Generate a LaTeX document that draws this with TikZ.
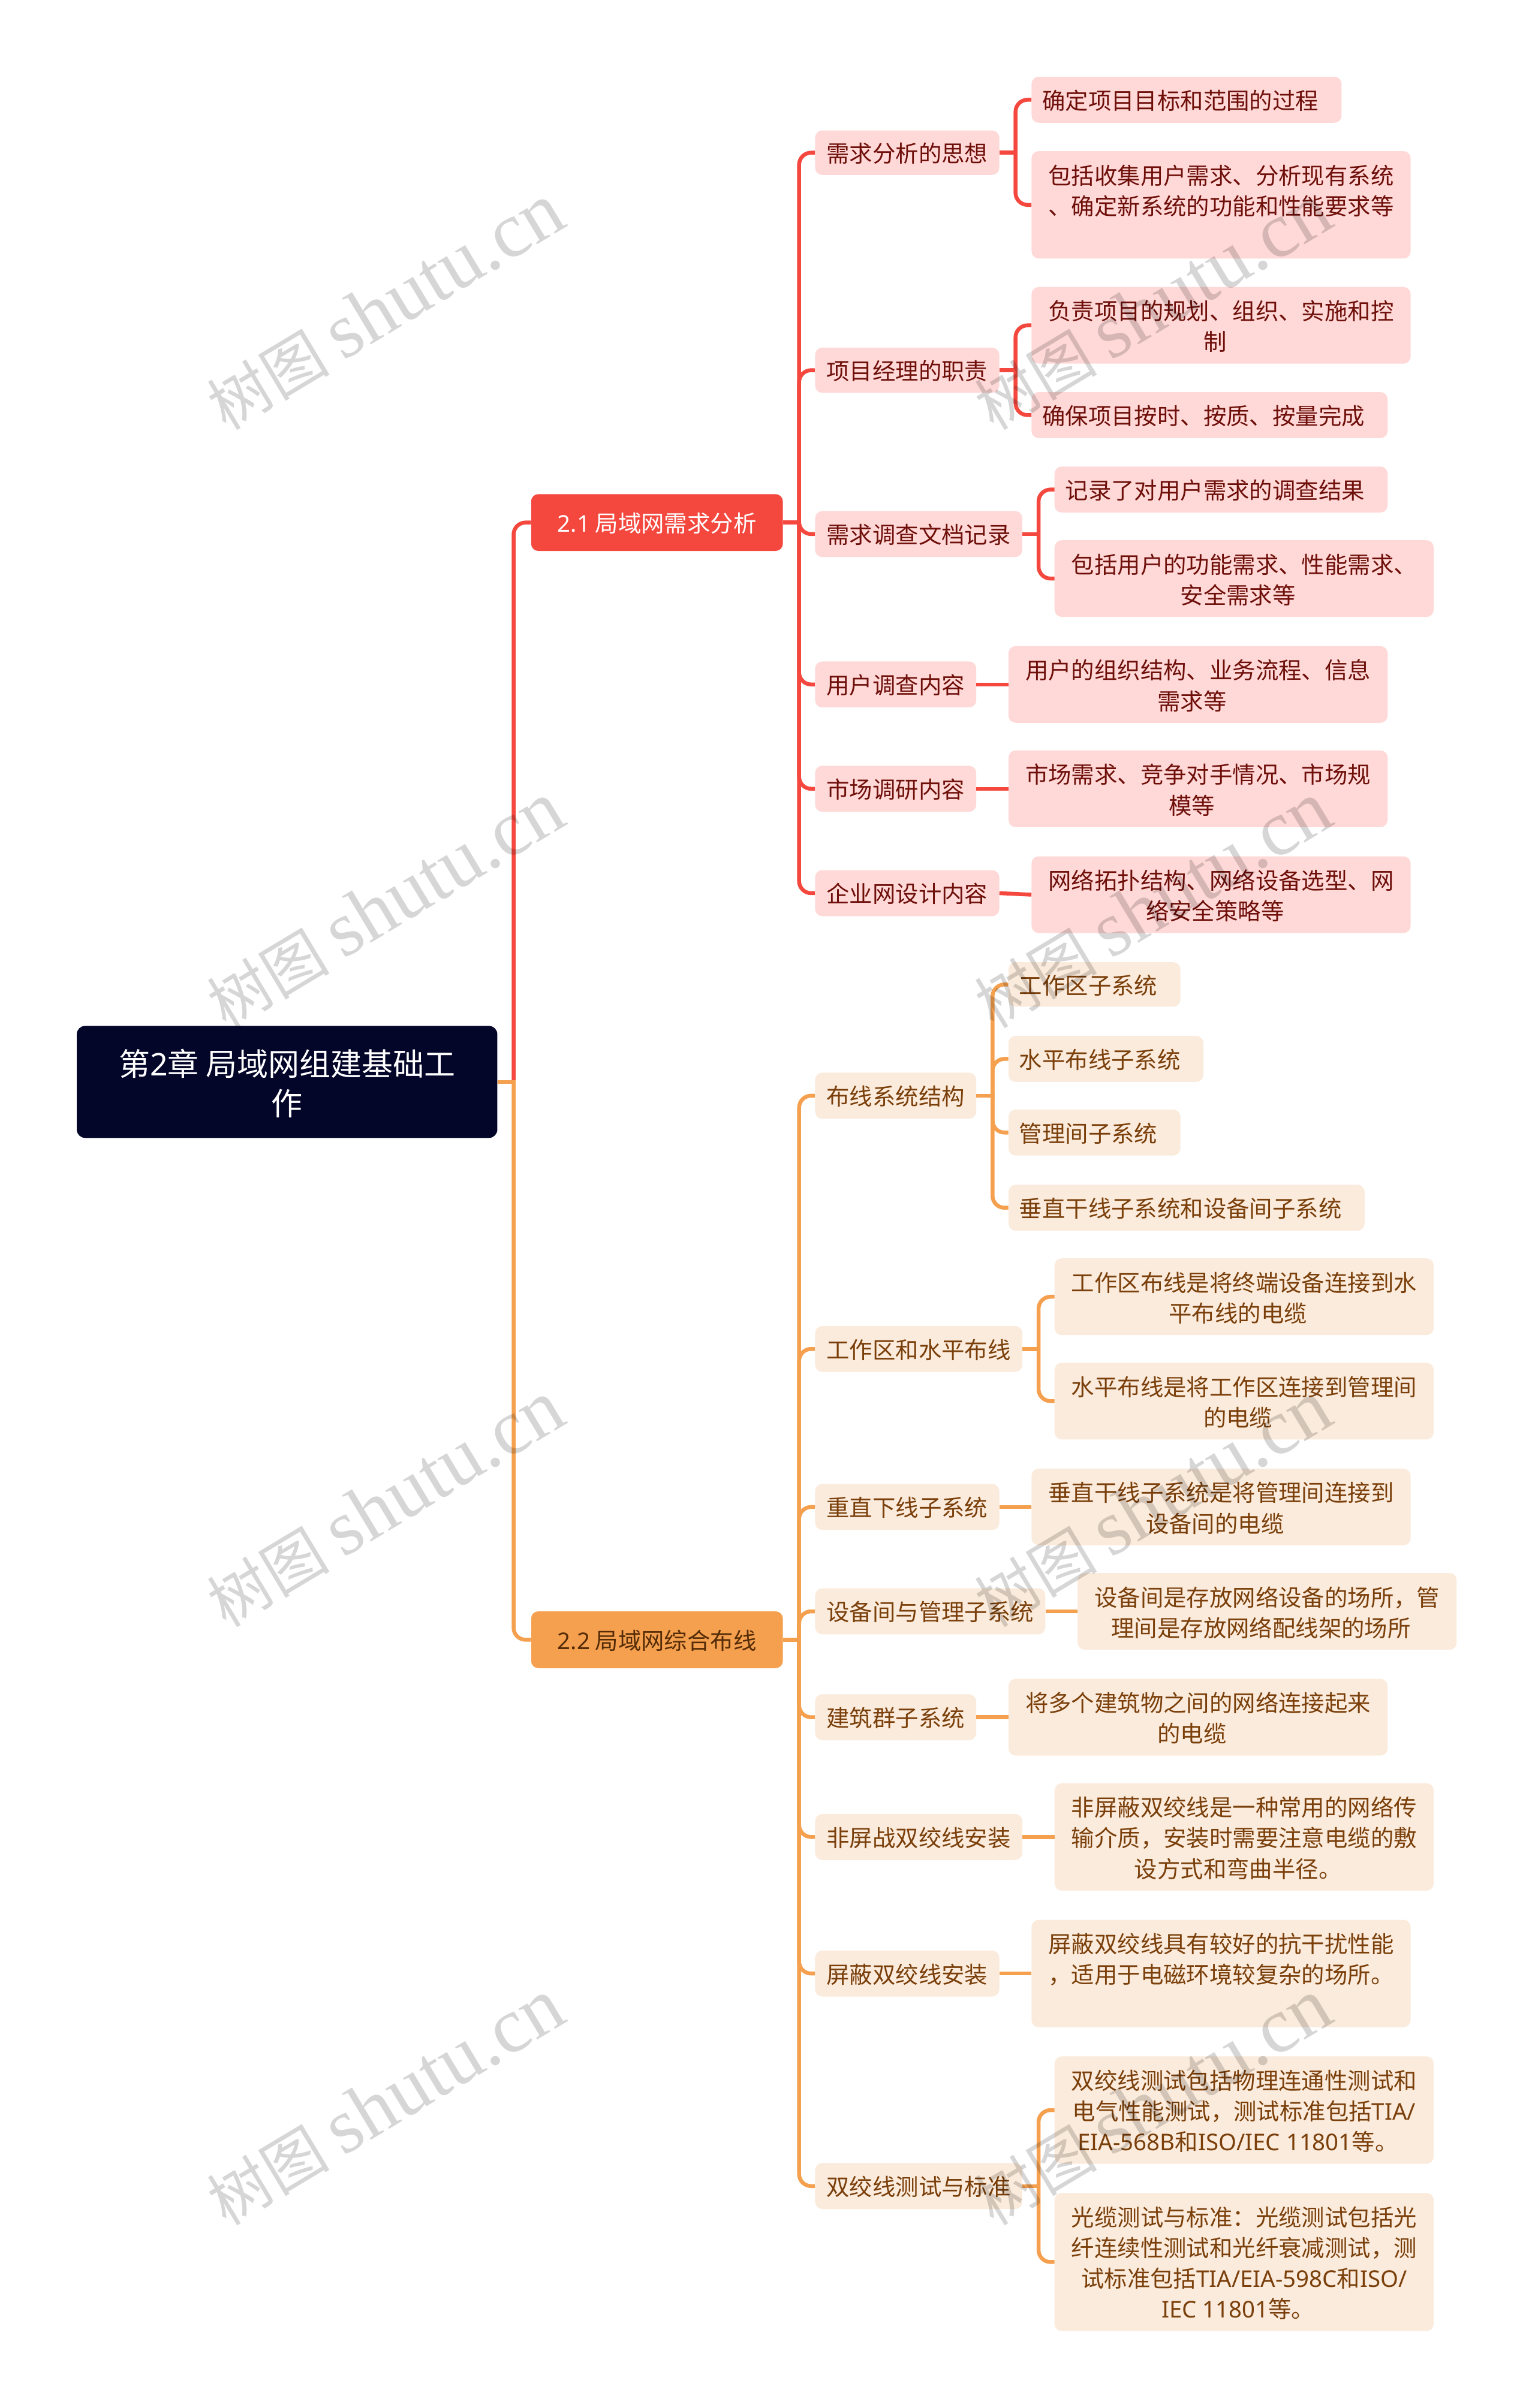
\documentclass[tikz,border=0pt]{standalone}
\usepackage{fontspec}
\setmainfont{Noto Sans CJK SC}
\newfontfamily\wmlatin{Liberation Serif}
\newfontfamily\lat{Noto Sans}
\usetikzlibrary{calc}
\definecolor{inknavy}{HTML}{030529}
\definecolor{linered}{HTML}{F4483F}
\definecolor{lineorange}{HTML}{F5A04E}
\definecolor{fillred}{HTML}{FFD9D8}
\definecolor{fillorange}{HTML}{FBEBDC}
\definecolor{textred}{HTML}{6E0F0A}
\definecolor{textorange}{HTML}{7A3F0A}
\newcommand{\tstrut}{\rule[-.284em]{0pt}{1.396em}}
\newcommand{\dn}{\rule{0pt}{1.15em}}
\newcommand{\pd}{\hspace*{20.5pt}}
\tikzset{
  box/.style={rectangle, rounded corners=12pt, inner sep=0pt, align=center,
    font=\fontsize{38.4pt}{51.2pt}\selectfont,
    execute at begin node=\tstrut, execute at end node=\tstrut},
  rootbox/.style={box, fill=inknavy, text=white, rounded corners=14pt,
    font=\fontsize{52pt}{66.5pt}\selectfont},
  branchred/.style={box, fill=linered, text=white},
  branchorange/.style={box, fill=lineorange, text=textorange!70!black},
  itemred/.style={box, fill=fillred, text=textred},
  itemorange/.style={box, fill=fillorange, text=textorange},
  linkred/.style={draw=linered, line width=6.5pt},
  linkorange/.style={draw=lineorange, line width=6.5pt},
  watermark/.style={rotate=31, text=black, text opacity=.16, inner sep=0pt,
    font=\fontsize{102pt}{127pt}\selectfont}
}

\begin{document}
\begin{tikzpicture}[x=2.56pt,y=-2.56pt]
  \useasboundingbox (0,0) rectangle (1000,1569.14);
  \node[rootbox, minimum width=274*2.56pt, minimum height=73*2.56pt] (root) at (187,705)
    {\rule{0pt}{1.16em}第{\lat 2}章 局域网组建基础工\\作};
  \node[branchred, minimum width=164*2.56pt, minimum height=37*2.56pt] (sec1) at (428,340.5)
    {{\lat 2.1} 局域网需求分析};
  \node[branchorange, minimum width=164*2.56pt, minimum height=37*2.56pt] (sec2) at (428,1068.5)
    {{\lat 2.2} 局域网综合布线};
  % red side
  \foreach \xa/\xb/\ya/\yb/\lab/\txt in {
    531/651/85/114/r1/{需求分析的思想},
    531/651/226.5/256/r2/{项目经理的职责},
    531/666/333/363/r3/{需求调查文档记录},
    531/636/431/461/r4/{用户调查内容},
    531/636/499/529/r5/{市场调研内容},
    531/651/567/597/r6/{企业网设计内容},
    672/874/50/80/ra/{确定项目目标和范围的过程\pd},
    672/919/98.5/168.5/rb/{\dn 包括收集用户需求、分析现有系统\\、确定新系统的功能和性能要求等\\~},
    672/919/187/237/rc/{\dn 负责项目的规划、组织、实施和控\\制\pd},
    672/904/255.5/285.5/rd/{确保项目按时、按质、按量完成\pd},
    687/904/304/334/re/{记录了对用户需求的调查结果\pd},
    687/934/352/402/rf/{\dn 包括用户的功能需求、性能需求、\\安全需求等\pd},
    657/904/421/471/rg/{\dn 用户的组织结构、业务流程、信息\\需求等\pd},
    657/904/489/539/rh/{\dn 市场需求、竞争对手情况、市场规\\模等\pd},
    672/919/558/608/ri/{\dn 网络拓扑结构、网络设备选型、网\\络安全策略等\pd}%
  } {
    \node[itemred, minimum width=(\xb-\xa)*2.56pt, minimum height=(\yb-\ya)*2.56pt] (\lab)
      at ({(\xa+\xb)/2},{(\ya+\yb)/2}) {\txt};
  }
  % orange side
  \foreach \xa/\xb/\ya/\yb/\lab/\txt in {
    531/636/699/729/o1/{布线系统结构},
    531/666/864/894/o2/{工作区和水平布线},
    531/651/967/997/o3/{重直下线子系统},
    531/681/1035/1065/o4/{设备间与管理子系统},
    531/636/1104/1134/o5/{建筑群子系统},
    531/666/1182/1212/o6/{非屏战双绞线安装},
    531/651/1271/1301/o7/{屏蔽双绞线安装},
    531/666/1409.5/1439.5/o8/{双绞线测试与标准},
    657/769/627/656/oa/{工作区子系统\pd},
    657/784/675/705/ob/{水平布线子系统\pd},
    657/769/723/753/oc/{管理间子系统\pd},
    657/889/772/802/od/{垂直干线子系统和设备间子系统\pd},
    687/934/820/870/oe/{\dn 工作区布线是将终端设备连接到水\\平布线的电缆\pd},
    687/934/888/938/of/{\dn 水平布线是将工作区连接到管理间\\的电缆\pd},
    672/919/957/1007/og/{\dn 垂直干线子系统是将管理间连接到\\设备间的电缆\pd},
    702/949/1025/1075/oh/{\dn 设备间是存放网络设备的场所，管\\理间是存放网络配线架的场所\pd},
    657/904/1094/1144/oi/{\dn 将多个建筑物之间的网络连接起来\\的电缆\pd},
    687/934/1162/1232/oj/{\dn 非屏蔽双绞线是一种常用的网络传\\输介质，安装时需要注意电缆的敷\\设方式和弯曲半径。\pd},
    672/919/1251/1321/ok/{\dn 屏蔽双绞线具有较好的抗干扰性能\\，适用于电磁环境较复杂的场所。\\~},
    687/934/1340/1410/ol/{\dn 双绞线测试包括物理连通性测试和\\电气性能测试，测试标准包括{\lat TIA/}\\{\lat EIA-568B}和{\lat ISO/IEC 11801}等。\pd},
    687/934/1429/1519/om/{\dn 光缆测试与标准：光缆测试包括光\\纤连续性测试和光纤衰减测试，测\\试标准包括{\lat TIA/EIA-598C}和{\lat ISO/}\\{\lat IEC 11801}等。\pd}%
  } {
    \node[itemorange, minimum width=(\xb-\xa)*2.56pt, minimum height=(\yb-\ya)*2.56pt] (\lab)
      at ({(\xa+\xb)/2},{(\ya+\yb)/2}) {\txt};
  }
  % forks
  \foreach \u/\v in {
    root/sec1,
    sec1/r1, sec1/r2, sec1/r3, sec1/r4, sec1/r5, sec1/r6,
    r1/ra, r1/rb,
    r2/rc, r2/rd,
    r3/re, r3/rf%
  } {
    \draw[linkred] (\u.east) -- ++(11.77,0);
    \draw[linkred, rounded corners=20pt] ($(\u.east)+(10.5,0)$) |- (\v.west);
  }
  \foreach \u/\v in {r4/rg, r5/rh, r6/ri} {
    \draw[linkred] (\u.east) -- (\v.west);
  }
  \foreach \u/\v in {
    root/sec2,
    sec2/o1, sec2/o2, sec2/o3, sec2/o4, sec2/o5, sec2/o6, sec2/o7, sec2/o8,
    o1/oa, o1/ob, o1/oc, o1/od,
    o2/oe, o2/of,
    o8/ol, o8/om%
  } {
    \draw[linkorange] (\u.east) -- ++(11.77,0);
    \draw[linkorange, rounded corners=20pt] ($(\u.east)+(10.5,0)$) |- (\v.west);
  }
  \foreach \u/\v in {o3/og, o4/oh, o5/oi, o6/oj, o7/ok} {
    \draw[linkorange] (\u.east) -- (\v.west);
  }
  % watermark rows
  \foreach \row/\y in {a/200, b/590, c/980, d/1370} {
    \foreach \col/\x in {l/251, r/751} {
      \node[watermark] (wm\row\col) at (\x,\y) {树图 {\wmlatin\fontsize{131pt}{131pt}\selectfont shutu.cn}};
    }
  }
\end{tikzpicture}
\end{document}
